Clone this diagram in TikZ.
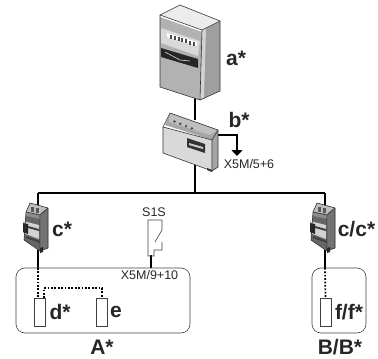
\documentclass[tikz,border=0pt]{standalone}
\usepackage{fontspec}
\setmainfont{Liberation Sans}
\usetikzlibrary{positioning,arrows.meta}
\tikzset{breaker/.pic={
\fill[gray!90] (-12,-16) -- (-8,-25) -- (10,-20) -- (10,20) -- (2,23) -- (-14,12) -- cycle;
\fill[gray!50] (-12,-16) -- (-8,-25) -- (10,-20) -- (2,-14) -- cycle;
\fill[black!65] (-7,-21) rectangle (-4,-16);
\fill[black!65] (-2,-20) rectangle (1,-15);
\fill[black!55] (3,-15) -- (10,-20) -- (10,20) -- (3,22) -- cycle;
\fill[black!60] (-12,-12) -- (2,-9) -- (2,22) -- (-14,12) -- cycle;
\fill[gray!35] (-15,-7) -- (1,-3) -- (1,11) -- (-15,5) -- cycle;
\fill[black!85] (-15,-5) -- (-10,-4) -- (-10,6) -- (-15,4) -- cycle;
\fill[black!75] (-10,-2) -- (1,1) -- (1,3) -- (-10,0) -- cycle;
\fill[black!75] (-12,8) -- (2,13) -- (2,15) -- (-12,10) -- cycle;
\fill[black!85] (2,20) -- (5,19) -- (5,24) -- (2,25) -- cycle;
\draw[black!80,line width=.6pt] (-12,-16) -- (-8,-25) -- (10,-20) -- (10,20) -- (2,23) -- (-14,12) -- cycle;
\draw[black!80,line width=.6pt] (-12,-16) -- (2,-13) -- (2,23) (2,-13) -- (10,-20);
}}
\begin{document}
\begin{tikzpicture}[x=1pt,y=-1pt,
wire/.style={line width=1.7pt},
dotwire/.style={line width=1.7pt,dash pattern=on 1.7pt off 1.7pt},
lbl/.style={font=\bfseries\fontsize{21}{21}\selectfont,inner sep=0pt,text=black!85},
small/.style={font=\fontsize{12.5}{13}\selectfont,inner sep=0pt,text=black!85},
unit/.style={draw=black!75,rounded corners=9pt,line width=.6pt},
box/.style={draw=black!75,fill=white,line width=.6pt,minimum width=11pt,minimum height=28pt,inner sep=0pt}]
\useasboundingbox (0,0) rectangle (378,359);
\coordinate (metertop) at (195,95);
\coordinate (dintop) at (195,120);
\coordinate (dinbot) at (195,165);
\coordinate (dinout) at (218,135);
\coordinate (bend) at (237,135);
\coordinate (arrowend) at (237,156);
\coordinate (busL) at (38,193);
\coordinate (busM) at (195,193);
\coordinate (busR) at (325,193);
\coordinate (inA) at (38,268);
\coordinate (inB) at (325,268);
\coordinate (sw) at (151,255);
\coordinate (swin) at (151,268);
\draw[wire] (metertop) -- (dintop);
\draw[wire] (dinbot) -- (busM);
\draw[wire] (busL) -- (busR);
\draw[wire] (busL) -- (inA);
\draw[wire] (busR) -- (inB);
\draw[wire] (sw) -- (swin);
\draw[wire,-{Triangle[width=11pt,length=6pt]}] (dinout) -- (bend) -- (arrowend);
\draw[unit] (16,268) rectangle (190,333);
\draw[unit] (312,268) rectangle (366,333);
\node[box] (d) at (40,312) {};
\node[box] (e) at (102,312) {};
\node[box] (f) at (325.5,312) {};
\draw[dotwire] (inA) -- (38,298);
\draw[dotwire] (44,298) -- (44,288) -- (102,288) -- (e.north);
\draw[dotwire] (inB) -- (f.north);
\fill[gray!75] (202,30) -- (220,21) -- (220,91) -- (200,100) -- cycle;
\fill[gray!35] (202,30) -- (206,28) -- (204,98) -- (200,100) -- cycle;
\fill[gray!15] (160,15) -- (180,5) -- (220,21) -- (202,30) -- cycle;
\fill[gray!60] (160,17) -- (202,32) -- (200,100) -- (160,87) -- cycle;
\fill[gray!30] (161,28) -- (200,41) -- (198,56) -- (161,43) -- cycle;
\fill[white] (167,33) -- (197,42) -- (197,46) -- (167,37) -- cycle;
\foreach \n in {0,...,6} {\fill[black!70] (170+3.8*\n,35+1.1*\n) rectangle (172+3.8*\n,39+1.1*\n);}
\fill[black!85] (161,48) -- (198,59) -- (198,68) -- (161,57) -- cycle;
\draw[gray!30,line width=.6pt] (165,52) -- (180,60) -- (190,61);
\draw[black!80,line width=.6pt] (160,15) -- (180,5) -- (220,21) -- (220,91) -- (200,100) -- (160,87) -- cycle;
\draw[black!80,line width=.6pt] (160,15) -- (202,30) -- (220,21) (202,30) -- (200,100);
\fill[gray!70] (170,113) -- (218,130) -- (218,167) -- (212,171) -- (212,140) -- (165,125) -- cycle;
\fill[gray!50] (170,113) -- (169,122) -- (210,135) -- (217,130) -- cycle;
\foreach \n in {0,...,3} {\fill[black!70] (174.5+5.8*\n,121.5+2.3*\n) circle (1.4pt);}
\fill[gray!30] (163,127) -- (212,140) -- (212,171) -- (163,153) -- cycle;
\fill[black!80] (187,138) -- (205,144) -- (205,153) -- (187,147) -- cycle;
\fill[gray!40] (189,143) -- (203,147) -- (203,149) -- (189,145) -- cycle;
\fill[black!85] (207,168) -- (212,170) -- (212,172) -- (207,170) -- cycle;
\draw[black!80,line width=.6pt] (170,113) -- (218,130) -- (218,167) -- (212,171) -- (163,153) -- (163,127) -- cycle;
\draw[black!80,line width=.6pt] (163,127) -- (212,140) -- (212,171) (212,140) -- (218,130);
\pic at (38,228) {breaker};
\pic at (325,228) {breaker};
\draw[black!75,line width=.6pt] (155,242) -- (162,230) -- (162,220) -- (148,220) -- (148,256) -- (154,256) -- (154,250) -- (162,250) -- (162,242);
\node[small] (s1s) at (154,212) {S1S};
\node[small] (x5m5) at (249,164) {X5M/5+6};
\node[small] (x5m9) at (149.5,275) {X5M/9+10};
\node[lbl] (a) at (236,58) {a*};
\node[lbl] (b) at (239,120) {b*};
\node[lbl] (c) at (62,229) {c*};
\node[lbl] (cc) at (356.5,229) {c/c*};
\node[lbl] (dl) at (60,312) {d*};
\node[lbl] (el) at (116,312) {e};
\node[lbl] (fl) at (349,312) {f/f*};
\node[lbl] (A) at (102,347) {A*};
\node[lbl] (B) at (340,347) {B/B*};
\end{tikzpicture}
\end{document}
